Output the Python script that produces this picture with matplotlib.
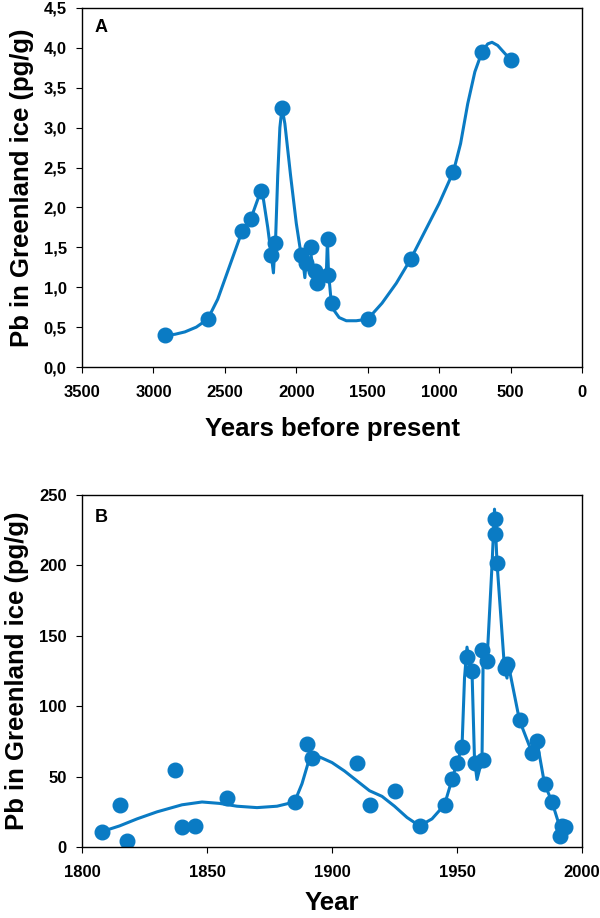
import numpy as np
import matplotlib.pyplot as plt

plt.rcParams['font.family'] = ['Liberation Sans', 'DejaVu Sans']
plt.rcParams['font.weight'] = 'bold'

blue = '#0a7bc4'

# panel A: years before present vs Pb (pg/g)
bp_years = [2920, 2620, 2380, 2320, 2250, 2175, 2150, 2100, 1965, 1935,
            1900, 1870, 1855, 1780, 1778, 1750, 1500, 1200, 900, 700, 500]
bp_pb = [0.40, 0.60, 1.70, 1.85, 2.20, 1.40, 1.55, 3.25, 1.40, 1.30,
         1.50, 1.20, 1.05, 1.15, 1.60, 0.80, 0.60, 1.35, 2.45, 3.95, 3.85]

# smoothed curve of panel A
curve_a_x = [2920, 2850, 2780, 2700, 2620, 2550, 2480, 2420, 2380, 2320,
             2280, 2250, 2230, 2200, 2175, 2160, 2152, 2145, 2130, 2115,
             2100, 2080, 2040, 2000, 1970, 1955, 1940, 1930, 1915, 1900,
             1885, 1865, 1850, 1830, 1810, 1790, 1782, 1775, 1760, 1740,
             1700, 1650, 1580, 1500, 1400, 1300, 1200, 1100, 1000, 900,
             850, 800, 750, 700, 660, 630, 590, 550, 500]
curve_a_y = [0.40, 0.41, 0.44, 0.50, 0.60, 0.85, 1.20, 1.50, 1.70, 1.85,
             2.05, 2.20, 2.10, 1.75, 1.40, 1.18, 1.45, 1.60, 2.40, 3.00,
             3.25, 3.05, 2.40, 1.80, 1.45, 1.35, 1.12, 1.35, 1.50, 1.45,
             1.25, 1.15, 1.10, 1.10, 1.12, 1.15, 1.60, 1.20, 0.90, 0.72,
             0.62, 0.58, 0.58, 0.60, 0.80, 1.05, 1.35, 1.70, 2.05, 2.45,
             2.80, 3.30, 3.70, 3.95, 4.05, 4.07, 4.03, 3.95, 3.85]

# panel B: calendar year vs Pb (pg/g)
yr = [1808, 1815, 1818, 1837, 1840, 1845, 1858, 1885, 1890, 1892,
      1910, 1915, 1925, 1935, 1945, 1948, 1950, 1952, 1954, 1956,
      1957, 1960, 1960.5, 1962, 1965, 1965, 1966, 1969, 1970, 1975,
      1980, 1982, 1985, 1988, 1991, 1992, 1993]
yr_pb = [11, 30, 4, 55, 14, 15, 35, 32, 73, 63,
         60, 30, 40, 15, 30, 48, 60, 71, 135, 125,
         60, 140, 62, 132, 233, 222, 202, 127, 130, 90,
         67, 75, 45, 32, 8, 15, 14]

curve_b_x = [1808, 1815, 1822, 1830, 1840, 1848, 1855, 1862, 1870, 1878,
             1885, 1888, 1891, 1895, 1900, 1905, 1910, 1915, 1920, 1925,
             1930, 1935, 1940, 1945, 1948, 1950, 1952, 1953, 1954, 1955,
             1956, 1957, 1958, 1959, 1960, 1960.5, 1962, 1964, 1965, 1965.5,
             1966, 1969, 1970, 1970.5, 1975, 1980, 1982, 1985, 1988, 1991, 1993]
curve_b_y = [11, 15, 20, 25, 30, 32, 31, 29, 28, 29,
             32, 45, 63, 64, 60, 54, 47, 40, 36, 29,
             21, 15, 20, 30, 48, 60, 71, 120, 142, 130,
             125, 62, 48, 55, 62, 140, 132, 200, 240, 222,
             202, 127, 120, 130, 90, 67, 75, 45, 32, 15, 14]

fig = plt.figure(figsize=(6, 9.18), dpi=100)
ax1 = fig.add_axes([0.1367, 0.6002, 0.8333, 0.3911])
ax2 = fig.add_axes([0.1367, 0.0773, 0.8333, 0.3834])

ax1.plot(curve_a_x, curve_a_y, '-', color=blue, lw=2.2)
ax1.plot(bp_years, bp_pb, 'o', color=blue, ms=10.5)
ax1.set_xlim(3500, 0)
ax1.set_ylim(0, 4.5)
ax1.set_xticks([3500, 3000, 2500, 2000, 1500, 1000, 500, 0])
yt = [0, 0.5, 1, 1.5, 2, 2.5, 3, 3.5, 4, 4.5]
ax1.set_yticks(yt)
ax1.set_yticklabels([('%.1f' % v).replace('.', ',') for v in yt])
ax1.set_xlabel('Years before present', fontsize=18.5, fontweight='bold', labelpad=12)
ax1.set_ylabel('Pb in Greenland ice (pg/g)', fontsize=18.5, fontweight='bold', labelpad=7)
ax1.text(0.026, 0.945, 'A', transform=ax1.transAxes, fontsize=13,
         fontweight='bold', va='center')

ax2.plot(curve_b_x, curve_b_y, '-', color=blue, lw=2.2)
ax2.plot(yr, yr_pb, 'o', color=blue, ms=10.5)
ax2.set_xlim(1800, 2000)
ax2.set_ylim(0, 250)
ax2.set_xticks([1800, 1850, 1900, 1950, 2000])
ax2.set_yticks([0, 50, 100, 150, 200, 250])
ax2.set_xlabel('Year', fontsize=18.5, fontweight='bold', labelpad=8)
ax2.set_ylabel('Pb in Greenland ice (pg/g)', fontsize=18.5, fontweight='bold', labelpad=7)
ax2.text(0.026, 0.935, 'B', transform=ax2.transAxes, fontsize=13,
         fontweight='bold', va='center')

for ax in (ax1, ax2):
    ax.tick_params(direction='out', length=4, labelsize=12, top=False, right=False)
    ax.tick_params(axis='x', pad=9)
    ax.tick_params(axis='y', pad=7)
    for lbl in ax.get_xticklabels() + ax.get_yticklabels():
        lbl.set_fontweight('bold')
    for s in ax.spines.values():
        s.set_linewidth(1.0)

fig.savefig('out.png', dpi=100)
